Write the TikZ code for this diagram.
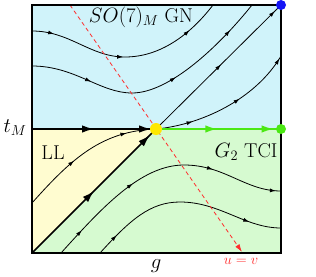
\documentclass[tikz,border=0pt]{standalone}
\usetikzlibrary{arrows.meta,decorations.markings}
\definecolor{cblue}{RGB}{208,243,250}
\definecolor{cyel}{RGB}{255,252,208}
\definecolor{cgreen}{RGB}{214,250,208}
\definecolor{dotyel}{RGB}{255,232,0}
\definecolor{dotgreen}{RGB}{75,232,20}
\definecolor{dotblue}{RGB}{20,20,245}
\definecolor{lred}{RGB}{255,45,45}
\tikzset{
  smtip/.tip={Latex[length=6pt,width=4pt]},
  bigtip/.tip={Latex[length=12pt,width=7.5pt]},
  am/.style={postaction={decorate,decoration={markings,mark=at position #1 with {\arrow{smtip}}}}},
  bm/.style={postaction={decorate,decoration={markings,mark=at position #1 with {\arrow{bigtip}}}}},
  flow/.style={line width=0.8pt,black},
  thick flow/.style={line width=1.6pt,black},
  fixpt/.style={circle,inner sep=0pt,minimum size=#1},
  lab/.style={font=\fontsize{20}{24}\selectfont,inner sep=0pt}
}
\begin{document}
\begin{tikzpicture}[x=1pt,y=-1pt]
\useasboundingbox (0,0) rectangle (316,276);
% regions
\fill[cblue] (32,5) rectangle (281,129);
\fill[cyel] (32,129) -- (156,129) -- (32,253) -- cycle;
\fill[cgreen] (32,253) -- (156,129) -- (281,129) -- (281,253) -- cycle;
% named points
\coordinate (tl) at (32,5);
\coordinate (br) at (281,253);
\coordinate (lm) at (32,129);
\coordinate (bl) at (32,253);
\coordinate (r1) at (70,5);
\coordinate (r2) at (242,252);
\coordinate (P) at (156,129);
\coordinate (B) at (281,5);
\coordinate (G) at (281,129);
% upper flows
\draw[flow,am=0.11,am=0.47,am=0.83] (32,31) .. controls (70,31) and (90,57) .. (125,57) .. controls (160,57) and (190,35) .. (213,5);
\draw[flow,am=0.24,am=0.59,am=0.87] (32,66) .. controls (75,66) and (100,93) .. (132,93) .. controls (170,93) and (220,45) .. (252,5);
\draw[flow,am=0.52,am=0.95] (P) -- (B);
\draw[flow,am=0.25,am=0.6,am=0.98] (P) .. controls (200,125) and (255,100) .. (281,56);
% lower flows
\draw[flow,am=0.4,am=0.8] (32,203) .. controls (72,158) and (102,131) .. (P);
\draw[flow,am=0.12,am=0.39,am=0.72,am=0.98] (61,253) .. controls (100,210) and (140,165) .. (184,165) .. controls (225,165) and (245,191) .. (281,191);
\draw[flow,am=0.12,am=0.84] (100,253) .. controls (130,220) and (150,202) .. (180,202) .. controls (220,202) and (245,228) .. (281,228);
% thick separatrices
\draw[thick flow,bm=0.5,bm=0.96] (lm) -- (P);
\draw[thick flow,bm=0.5,bm=0.95] (bl) -- (P);
\draw[dotgreen,line width=1.6pt,postaction={decorate,decoration={markings,mark=at position 0.49 with {\arrow{bigtip}},mark=at position 0.94 with {\arrow{bigtip}}}}] (P) -- (G);
% red dashed line
\draw[lred,line width=0.8pt,dash pattern=on 4pt off 3pt,-{Latex[length=8pt,width=5pt]}] (r1) -- (r2);
% frame
\draw[line width=1.2pt] (tl) rectangle (br);
% fixed points
\node[fixpt=12pt,fill=dotyel] (Pd) at (P) {};
\node[fixpt=10pt,fill=dotblue] (Bd) at (B) {};
\node[fixpt=10pt,fill=dotgreen] (Gd) at (G) {};
% labels
\node[lab] (lso) at (141,17) {$SO(7)_M$ GN};
\node[lab] (ltm) at (15,128) {$t_M$};
\node[lab] (lll) at (53,153) {LL};
\node[lab] (lg2) at (246,152) {$G_2$ TCI};
\node[lab] (lg) at (156,266) {$g$};
\node[inner sep=0pt,text=lred,font=\fontsize{14.5}{17}\selectfont] (luv) at (241,261) {$u=v$};
\end{tikzpicture}
\end{document}
